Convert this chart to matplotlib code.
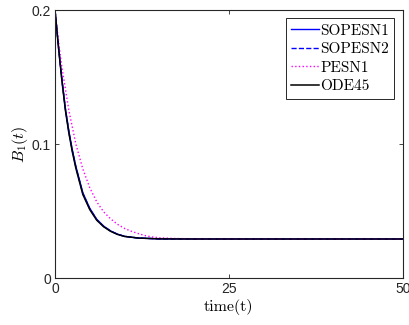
import matplotlib
matplotlib.use("Agg")
import matplotlib.pyplot as plt

plt.rcParams['mathtext.fontset'] = 'cm'

t = [0, 0.5, 1, 1.5, 2, 2.5, 3, 4, 5, 6, 7, 8, 9, 10, 12, 15, 20, 25, 30, 35, 40, 45, 50]
ode45 = [0.200, 0.172, 0.147, 0.125, 0.108, 0.094, 0.082, 0.0625, 0.0512, 0.0433, 0.0384, 0.0350, 0.0327, 0.0312, 0.0300, 0.0294, 0.0293, 0.0293, 0.0293, 0.0293, 0.0293, 0.0293, 0.0293]
sopesn1 = [0.200, 0.173, 0.148, 0.1265, 0.1095, 0.0955, 0.0835, 0.0638, 0.0522, 0.0440, 0.0389, 0.0353, 0.0329, 0.0313, 0.0300, 0.0294, 0.0293, 0.0293, 0.0293, 0.0293, 0.0293, 0.0293, 0.0293]
sopesn2 = [0.200, 0.1725, 0.1475, 0.126, 0.109, 0.095, 0.083, 0.0633, 0.0518, 0.0437, 0.0387, 0.0352, 0.0328, 0.0313, 0.0300, 0.0294, 0.0293, 0.0293, 0.0293, 0.0293, 0.0293, 0.0293, 0.0293]
t_pesn = [0, 0.5, 1, 2, 3, 4, 5, 6, 7, 8, 9, 10, 11, 12, 13, 14, 15, 17, 20, 25, 30, 35, 40, 45, 50]
pesn1 = [0.200, 0.177, 0.157, 0.125, 0.100, 0.0815, 0.0675, 0.0570, 0.0495, 0.0443, 0.0402, 0.0372, 0.0350, 0.0333, 0.0318, 0.0308, 0.0302, 0.0297, 0.0294, 0.0293, 0.0293, 0.0293, 0.0293, 0.0293, 0.0293]

xticks = [0, 25, 50]
yticks = [0, 0.1, 0.2]
ytick_labels = ['0', '0.1', '0.2']

fig = plt.figure(figsize=(4.09, 3.25), dpi=100)
ax = fig.add_axes([0.1345, 0.1437, 0.8501, 0.8253])

ax.plot(t, sopesn1, '-', color=(0, 0, 1), lw=1.0, label='SOPESN1')
ax.plot(t, sopesn2, '--', color=(0, 0, 1), lw=1.0, label='SOPESN2')
ax.plot(t_pesn, pesn1, ':', color=(1, 0, 1), lw=1.0, label='PESN1')
ax.plot(t, ode45, '-', color='black', lw=1.1, label='ODE45')

ax.set_xlim(0, 50)
ax.set_ylim(0, 0.2)
ax.set_xticks(xticks)
ax.set_xticklabels([str(v) for v in xticks], family='Liberation Sans', fontsize=10)
ax.set_yticks(yticks)
ax.set_yticklabels(ytick_labels, family='Liberation Sans', fontsize=10)
ax.tick_params(direction='in', top=True, right=True, length=3, width=0.6, pad=3, colors='#262626', labelcolor='#262626')
for s in ax.spines.values():
    s.set_linewidth(0.8)
    s.set_color('#262626')

ax.set_xlabel('time(t)', family='cmr10', fontsize=11.5, labelpad=2)
ax.set_ylabel(r'$B_1(t)$', fontsize=11.5, labelpad=1)

leg = ax.legend(loc='upper right', prop={'family': 'cmr10', 'size': 11}, fancybox=False,
                edgecolor='#262626', framealpha=1, handlelength=1.8, handletextpad=0.1,
                labelspacing=0.32, borderpad=0.35, borderaxespad=0.55)
leg.get_frame().set_linewidth(0.7)

fig.savefig('out.png', dpi=100)
